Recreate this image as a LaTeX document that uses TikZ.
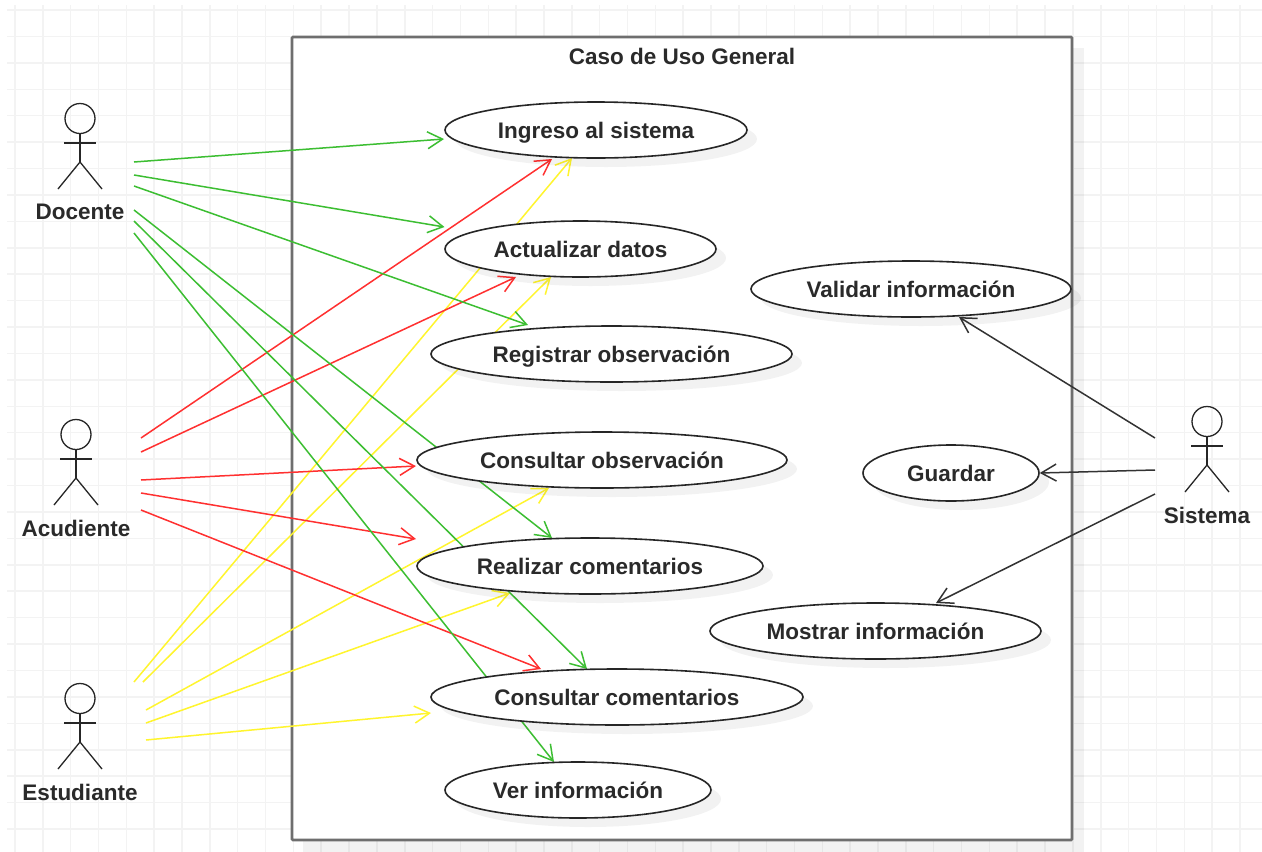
\documentclass[tikz,border=0pt]{standalone}
\usepackage{fontspec}
\setmainfont{Liberation Sans}
\usetikzlibrary{arrows.meta,shapes.geometric,shadows}
\pgfdeclarelayer{grid}
\pgfdeclarelayer{frame}
\pgfdeclarelayer{links}
\pgfsetlayers{grid,frame,links,main}
\definecolor{gridc}{HTML}{F3F3F3}
\definecolor{frm}{HTML}{6E6E6E}
\definecolor{txt}{HTML}{2A2A2A}
\definecolor{gr}{HTML}{3CBE32}
\definecolor{rd}{HTML}{FF3030}
\definecolor{yl}{HTML}{FFF52E}
\tikzset{
  x=1pt,y=-1pt,
  usecase/.style 2 args={ellipse,draw=black!85,line width=1.6pt,fill=white,inner sep=0pt,
    minimum width=#1,minimum height=#2,font=\fontsize{22.5}{26}\selectfont\bfseries,text=txt,
    text height=20.5pt,text depth=3.5pt,
    drop shadow={shadow xshift=10pt,shadow yshift=-9pt,fill=black,opacity=.05}},
  link/.style={line width=1.5pt,-{Straight Barb[length=15pt,width=17pt,line width=1.5pt]}},
  gl/.style={link,draw=gr},
  rl/.style={link,draw=rd},
  yln/.style={link,draw=yl},
  kl/.style={link,draw=black!80},
  actorlabel/.style={font=\fontsize{22.5}{26}\selectfont\bfseries,text=txt,inner sep=0pt},
  title/.style={font=\fontsize{22.5}{26}\selectfont\bfseries,text=txt,inner sep=0pt},
  stick/.style={draw=black!85,line width=1.3pt},
}
\newcommand{\stickman}[4]{% name, x (centre), y (label), label
  \node[actorlabel] (#1) at (#2,#3) {#4};
  \draw[stick] ([shift={(0,-93.5)}]#1.center) circle[radius=15];
  \draw[stick] ([shift={(0,-78.5)}]#1.center) -- ([shift={(0,-50)}]#1.center);
  \draw[stick] ([shift={(-16,-69)}]#1.center) -- ([shift={(16,-69)}]#1.center);
  \draw[stick] ([shift={(-22,-23)}]#1.center) -- ([shift={(0,-50)}]#1.center) -- ([shift={(22,-23)}]#1.center);
}
\begin{document}
\begin{tikzpicture}
\useasboundingbox (0,0) rectangle (1262,852);
\begin{pgfonlayer}{grid}
  \fill[white] (0,0) rectangle (1262,852);
  \foreach \i in {0,...,44} \draw[gridc,line width=1.5pt] ({15+27.84*\i},5) -- ({15+27.84*\i},852);
  \foreach \j in {0,...,31} \draw[gridc,line width=1.5pt] (7,{10+26.42*\j}) -- (1262,{10+26.42*\j});
\end{pgfonlayer}
\begin{pgfonlayer}{frame}
  \fill[black,opacity=.05] (303,48) rectangle (1084,852);
  \node[draw=frm,line width=2.6pt,fill=white,rounded corners=1pt,minimum width=780pt,minimum height=803pt,inner sep=0pt] (frame) at (682,438.5) {};
\end{pgfonlayer}
\node[title] (titulo) at (682,56) {Caso de Uso General};
\node[usecase={302pt}{56pt}] (ingreso) at (596,130) {Ingreso al sistema};
\node[usecase={271pt}{56pt}] (actualizar) at (580.5,249) {Actualizar datos};
\node[usecase={361pt}{56pt}] (registrar) at (611.5,354) {Registrar observación};
\node[usecase={370pt}{56pt}] (consobs) at (602,460) {Consultar observación};
\node[usecase={346pt}{56pt}] (realizar) at (590,566) {Realizar comentarios};
\node[usecase={372pt}{56pt}] (conscom) at (617,697) {Consultar comentarios};
\node[usecase={266pt}{56pt}] (ver) at (578,790) {Ver información};
\node[usecase={320pt}{56pt}] (validar) at (911,289) {Validar información};
\node[usecase={176pt}{56pt}] (guardar) at (951,473) {Guardar};
\node[usecase={331pt}{56pt}] (mostrar) at (875.5,631) {Mostrar información};
\stickman{docente}{80}{212}{Docente}
\stickman{acudiente}{76}{528}{Acudiente}
\stickman{estudiante}{80}{792}{Estudiante}
\stickman{sistema}{1207}{515}{Sistema}
\begin{pgfonlayer}{links}
  % Estudiante
  \draw[yln] ([shift={(54,-110)}]estudiante.center) -- ([shift={(-24,28)}]ingreso.center);
  \draw[yln] ([shift={(63,-110)}]estudiante.center) -- ([shift={(-29.5,28)}]actualizar.center);
  \draw[yln] ([shift={(66,-82)}]estudiante.center) -- ([shift={(-53,28)}]consobs.center);
  \draw[yln] ([shift={(66,-69)}]estudiante.center) -- ([shift={(-80,27)}]realizar.center);
  \draw[yln] ([shift={(66,-52)}]estudiante.center) -- ([shift={(-186,16)}]conscom.center);
  % Acudiente
  \draw[rl] ([shift={(65,-90)}]acudiente.center) -- ([shift={(-44,29)}]ingreso.center);
  \draw[rl] ([shift={(65,-76)}]acudiente.center) -- ([shift={(-64.5,28)}]actualizar.center);
  \draw[rl] ([shift={(65,-48)}]acudiente.center) -- ([shift={(-186,6)}]consobs.center);
  \draw[rl] ([shift={(65,-35)}]acudiente.center) -- ([shift={(-174,-27)}]realizar.center);
  \draw[rl] ([shift={(65,-18)}]acudiente.center) -- ([shift={(-76,-28)}]conscom.center);
  % Docente
  \draw[gl] ([shift={(54,-50)}]docente.center) -- ([shift={(-152,9)}]ingreso.center);
  \draw[gl] ([shift={(54,-37)}]docente.center) -- ([shift={(-136,-22)}]actualizar.center);
  \draw[gl] ([shift={(54,-26)}]docente.center) -- ([shift={(-83.5,-29)}]registrar.center);
  \draw[gl] ([shift={(54,-2)}]docente.center) -- ([shift={(-38,-28)}]realizar.center);
  \draw[gl] ([shift={(54,9)}]docente.center) -- ([shift={(-30,-28)}]conscom.center);
  \draw[gl] ([shift={(54,21)}]docente.center) -- ([shift={(-24,-28)}]ver.center);
  % Sistema
  \draw[kl] ([shift={(-52,-77)}]sistema.center) -- ([shift={(48,28)}]validar.center);
  \draw[kl] ([shift={(-52,-45)}]sistema.center) -- (guardar.east);
  \draw[kl] ([shift={(-52,-21)}]sistema.center) -- ([shift={(60.5,-28)}]mostrar.center);
\end{pgfonlayer}
\end{tikzpicture}
\end{document}
